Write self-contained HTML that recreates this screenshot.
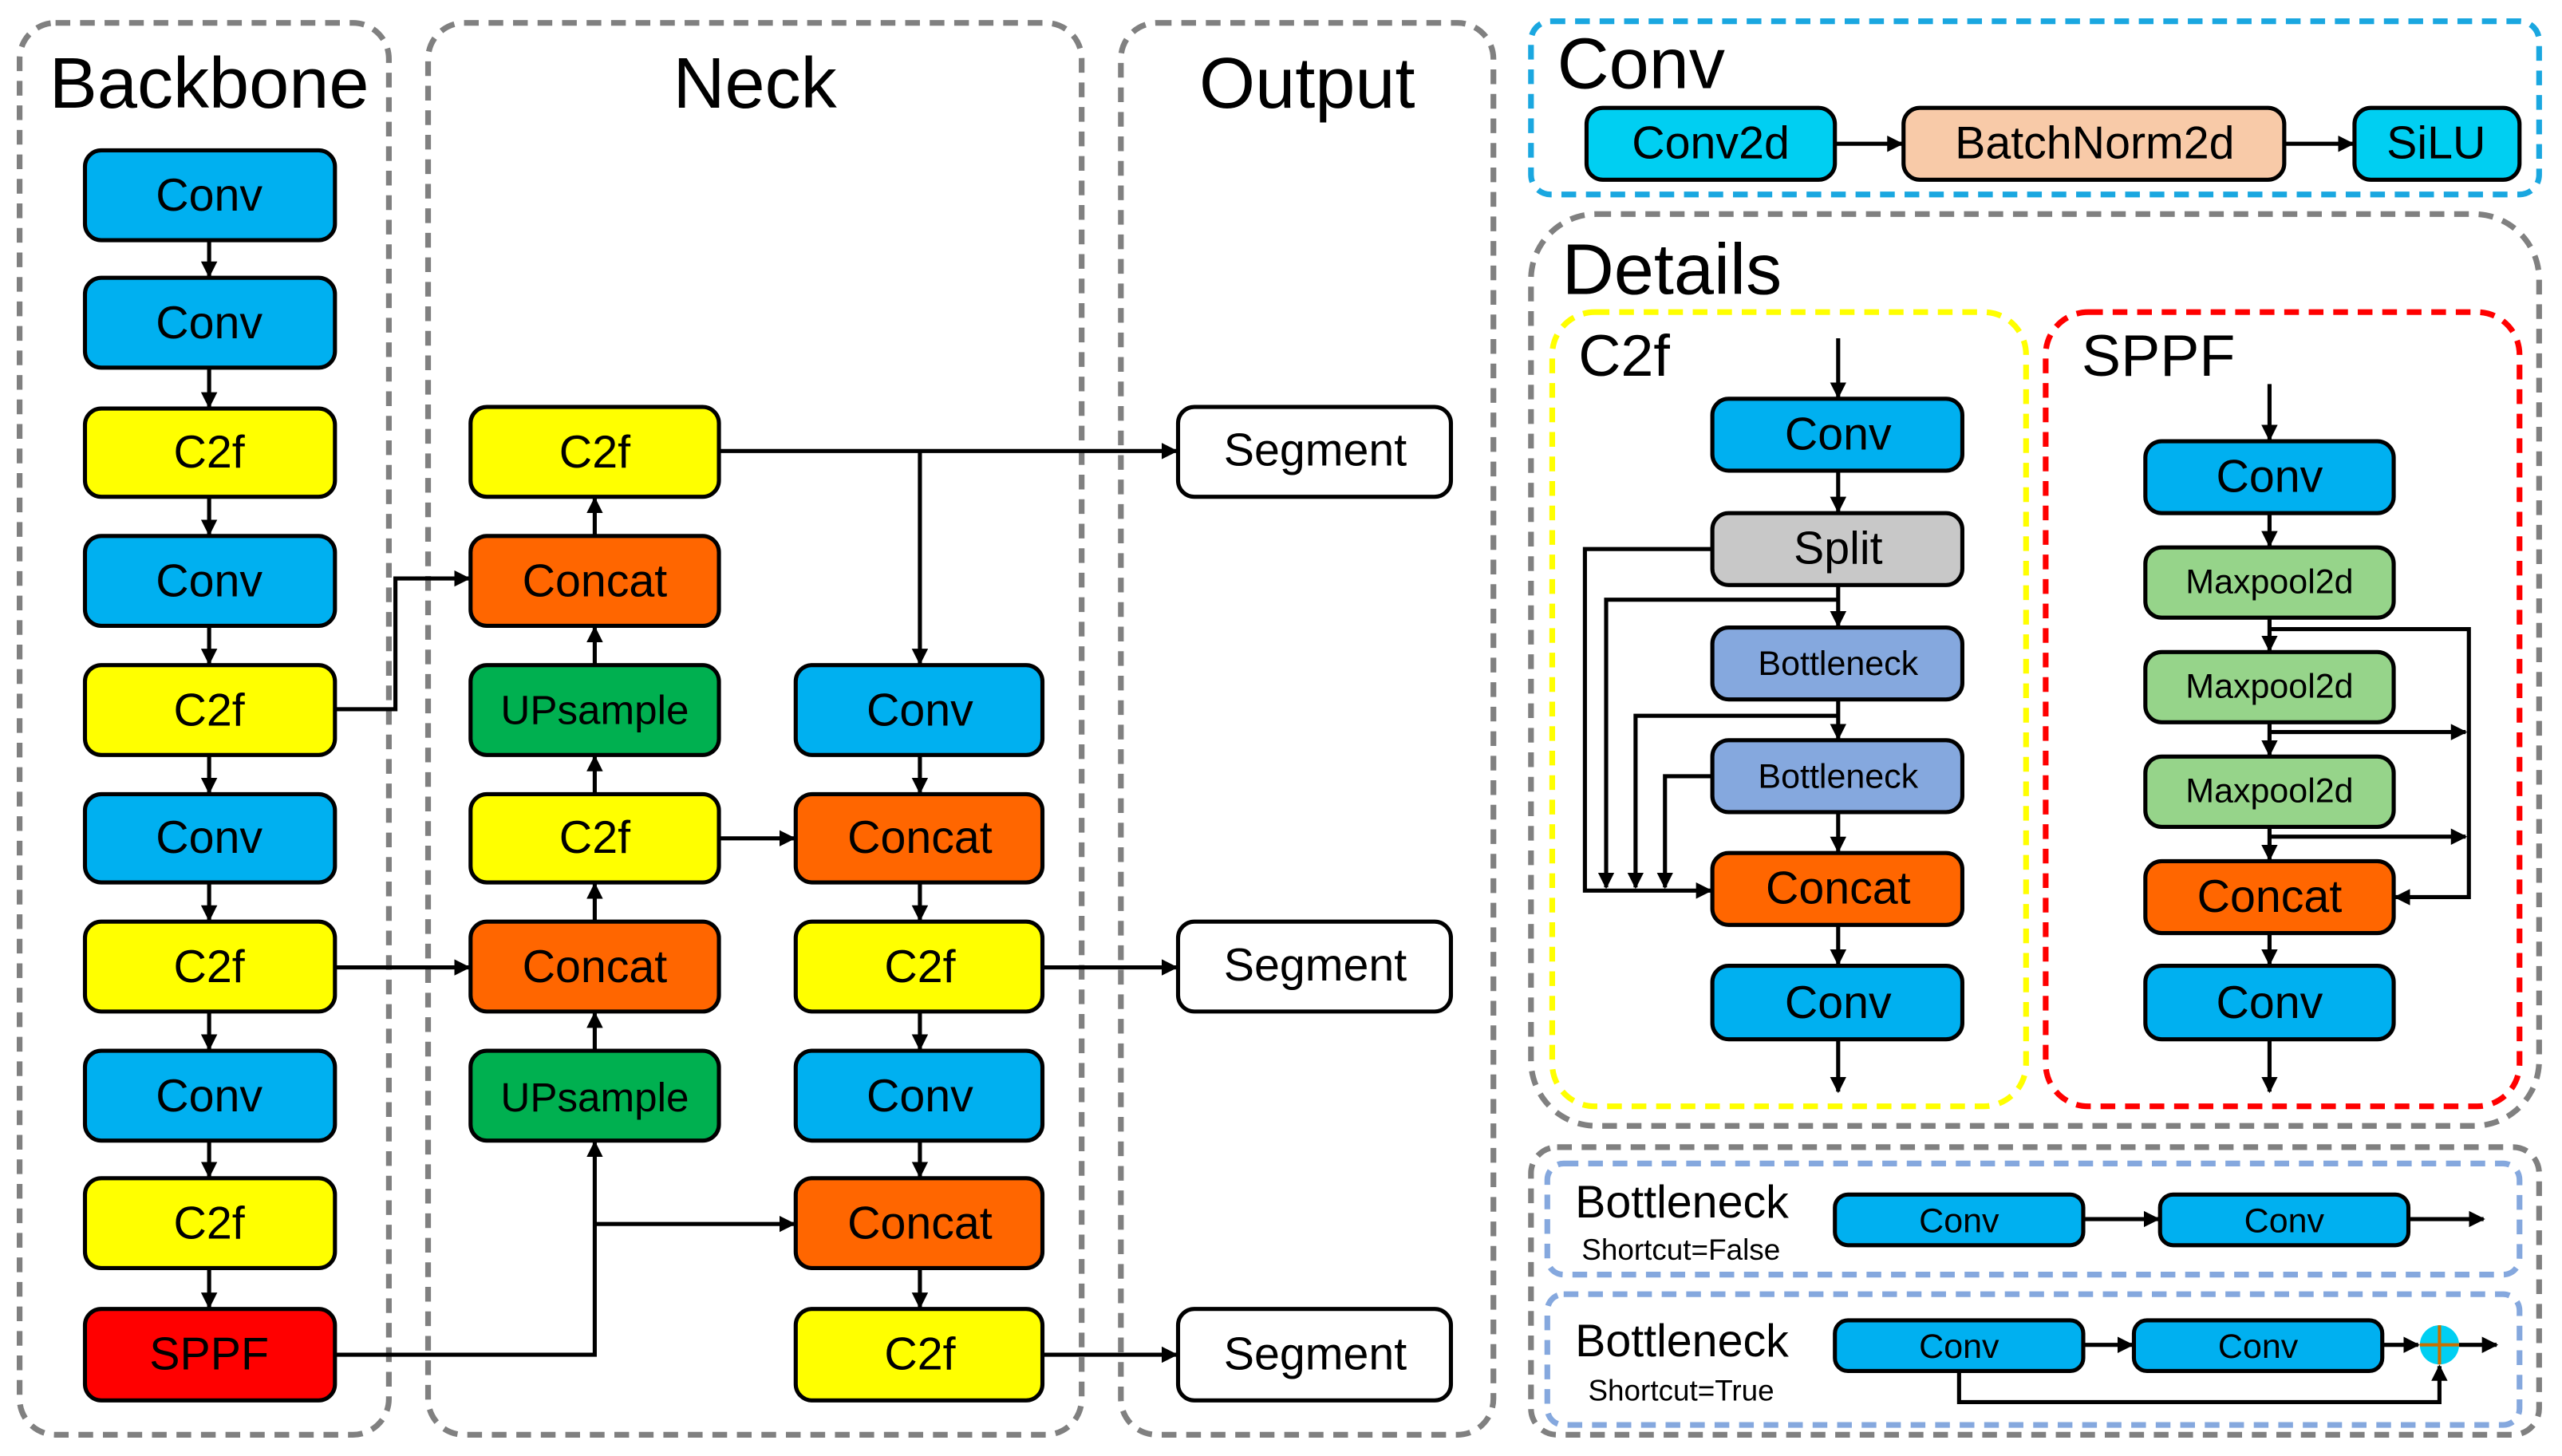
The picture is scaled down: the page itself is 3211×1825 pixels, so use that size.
<!DOCTYPE html>
<html><head><meta charset="utf-8"><style>html,body{margin:0;padding:0;background:#fff}svg{display:block}</style></head>
<body>
<svg width="3211" height="1825" viewBox="0 0 1568 891" preserveAspectRatio="none" xmlns="http://www.w3.org/2000/svg" font-family="Liberation Sans, sans-serif">
<defs>
<marker id="a" viewBox="0 0 10 10" refX="9" refY="5" markerWidth="4" markerHeight="4" orient="auto"><path d="M0,0L10,5L0,10z" fill="#000"/></marker>
</defs>
<g fill="none" stroke-dasharray="9,6" stroke-width="3.5">
<rect x="12" y="14" width="226" height="864" rx="22" stroke="#808080"/>
<rect x="262" y="14" width="400" height="864" rx="22" stroke="#808080"/>
<rect x="686" y="14" width="228" height="864" rx="22" stroke="#808080"/>
<rect x="937" y="13" width="617" height="106" rx="12" stroke="#1aa7e0"/>
<rect x="937" y="131" width="617" height="558" rx="40" stroke="#808080"/>
<rect x="950" y="191" width="290" height="486" rx="26" stroke="#ffff00"/>
<rect x="1252" y="191" width="290" height="486" rx="26" stroke="#ff0000"/>
<rect x="937" y="702" width="617" height="176" rx="16" stroke="#808080"/>
<rect x="947" y="712" width="595" height="68" rx="10" stroke="#85a8de"/>
<rect x="947" y="792" width="595" height="80" rx="10" stroke="#85a8de"/>
</g>
<g font-size="44" text-anchor="middle" fill="#000">
<text x="128" y="66">Backbone</text>
<text x="462" y="66">Neck</text>
<text x="800" y="66">Output</text>
</g>
<g font-size="44" fill="#000">
<text x="953" y="54">Conv</text>
<text x="956" y="180">Details</text>
</g>
<g font-size="36" fill="#000">
<text x="966" y="230">C2f</text>
<text x="1274" y="230">SPPF</text>
</g>
<!-- boxes -->
<g stroke="#000" stroke-width="2.5">
<g fill="#00b0f0"><rect x="52" y="92" width="153" height="55" rx="10"/><rect x="52" y="170" width="153" height="55" rx="10"/><rect x="52" y="328" width="153" height="55" rx="10"/><rect x="52" y="486" width="153" height="54" rx="10"/><rect x="52" y="643" width="153" height="55" rx="10"/><rect x="487" y="407" width="151" height="55" rx="10"/><rect x="487" y="643" width="151" height="55" rx="10"/>
<rect x="1048" y="244" width="153" height="44" rx="10"/><rect x="1048" y="591" width="153" height="45" rx="10"/><rect x="1313" y="270" width="152" height="44" rx="10"/><rect x="1313" y="591" width="152" height="45" rx="10"/>
<rect x="1123" y="731" width="152" height="31" rx="8"/><rect x="1322" y="731" width="152" height="31" rx="8"/><rect x="1123" y="808" width="152" height="31" rx="8"/><rect x="1306" y="808" width="152" height="31" rx="8"/></g>
<g fill="#ffff00"><rect x="52" y="250" width="153" height="54" rx="10"/><rect x="52" y="407" width="153" height="55" rx="10"/><rect x="52" y="564" width="153" height="55" rx="10"/><rect x="52" y="721" width="153" height="55" rx="10"/><rect x="288" y="249" width="152" height="55" rx="10"/><rect x="288" y="486" width="152" height="54" rx="10"/><rect x="487" y="564" width="151" height="55" rx="10"/><rect x="487" y="801" width="151" height="56" rx="10"/></g>
<rect x="52" y="801" width="153" height="56" rx="10" fill="#ff0000"/>
<g fill="#ff6600"><rect x="288" y="328" width="152" height="55" rx="10"/><rect x="288" y="564" width="152" height="55" rx="10"/><rect x="487" y="486" width="151" height="54" rx="10"/><rect x="487" y="721" width="151" height="55" rx="10"/><rect x="1048" y="522" width="153" height="44" rx="10"/><rect x="1313" y="527" width="152" height="44" rx="10"/></g>
<g fill="#00b050"><rect x="288" y="407" width="152" height="55" rx="10"/><rect x="288" y="643" width="152" height="55" rx="10"/></g>
<g fill="#fff"><rect x="721" y="249" width="167" height="55" rx="10"/><rect x="721" y="564" width="167" height="55" rx="10"/><rect x="721" y="801" width="167" height="56" rx="10"/></g>
<g fill="#00cff2"><rect x="971" y="66" width="152" height="44" rx="10"/><rect x="1441" y="66" width="101" height="44" rx="10"/></g>
<rect x="1165" y="66" width="233" height="44" rx="10" fill="#f8caa8"/>
<rect x="1048" y="314" width="153" height="44" rx="10" fill="#c8c8c8"/>
<g fill="#85a8de"><rect x="1048" y="384" width="153" height="44" rx="10"/><rect x="1048" y="453" width="153" height="44" rx="10"/></g>
<g fill="#96d48a"><rect x="1313" y="335" width="152" height="43" rx="10"/><rect x="1313" y="399" width="152" height="43" rx="10"/><rect x="1313" y="463" width="152" height="43" rx="10"/></g>
</g>
<!-- connectors -->
<g stroke="#000" stroke-width="2.5" fill="none" marker-end="url(#a)">
<path d="M128 148V169"/><path d="M128 226V249"/><path d="M128 305V327"/><path d="M128 384V406"/><path d="M128 463V485"/><path d="M128 541V563"/><path d="M128 620V642"/><path d="M128 699V720"/><path d="M128 777V800"/>
<path d="M364 327V305"/><path d="M364 406V384"/><path d="M364 485V463"/><path d="M364 563V541"/><path d="M364 642V620"/>
<path d="M563 463V485"/><path d="M563 541V563"/><path d="M563 620V642"/><path d="M563 699V720"/><path d="M563 777V800"/>
<path d="M206 434H242V354H287"/>
<path d="M206 592H287"/>
<path d="M206 829H364V699"/>
<path d="M364 749H486"/>
<path d="M441 276H720"/>
<path d="M563 276V406"/>
<path d="M441 513H486"/>
<path d="M639 592H720"/>
<path d="M639 829H720"/>
<path d="M1124 88H1164"/><path d="M1399 88H1440"/>
<path d="M1125 207V243"/><path d="M1125 289V313"/><path d="M1125 359V383"/><path d="M1125 429V452"/><path d="M1125 498V521"/><path d="M1125 567V590"/><path d="M1125 637V668"/>
<path d="M1048 336H970V545H1047"/>
<path d="M1125 367H983V543"/><path d="M1125 438H1001V543"/><path d="M1048 475H1019V543"/>
<path d="M1389 235V269"/><path d="M1389 315V334"/><path d="M1389 379V398"/><path d="M1389 443V462"/><path d="M1389 507V526"/><path d="M1389 572V590"/><path d="M1389 637V668"/>
<path d="M1389 385H1511V549H1466"/>
<path d="M1389 448H1509"/><path d="M1389 512H1509"/>
<path d="M1276 746H1321"/><path d="M1475 746H1520"/><path d="M1276 823H1305"/><path d="M1459 823H1480"/><path d="M1505 823H1528"/>
<path d="M1199 840V858H1493V836"/>
</g>
<circle cx="1493" cy="823" r="12" fill="#00cff2"/>
<path d="M1481 823H1505M1493 811V835" stroke="#c87000" stroke-width="2"/>
<!-- labels -->
<g font-size="28" text-anchor="middle" fill="#000">
<text x="128" y="129">Conv</text><text x="128" y="207">Conv</text><text x="128" y="286">C2f</text><text x="128" y="365">Conv</text><text x="128" y="444">C2f</text><text x="128" y="522">Conv</text><text x="128" y="601">C2f</text><text x="128" y="680">Conv</text><text x="128" y="758">C2f</text><text x="128" y="838">SPPF</text>
<text x="364" y="286">C2f</text><text x="364" y="365">Concat</text><text x="364" y="443" font-size="25">UPsample</text><text x="364" y="522">C2f</text><text x="364" y="601">Concat</text><text x="364" y="680" font-size="25">UPsample</text>
<text x="563" y="444">Conv</text><text x="563" y="522">Concat</text><text x="563" y="601">C2f</text><text x="563" y="680">Conv</text><text x="563" y="758">Concat</text><text x="563" y="838">C2f</text>
<text x="805" y="285">Segment</text><text x="805" y="600">Segment</text><text x="805" y="838">Segment</text>
<text x="1047" y="97">Conv2d</text><text x="1282" y="97">BatchNorm2d</text><text x="1491" y="97">SiLU</text>
<text x="1125" y="275">Conv</text><text x="1125" y="345">Split</text><text x="1125" y="553">Concat</text><text x="1125" y="623">Conv</text>
<text x="1389" y="301">Conv</text><text x="1389" y="558">Concat</text><text x="1389" y="623">Conv</text>
</g>
<g font-size="21" text-anchor="middle" fill="#000">
<text x="1125" y="413">Bottleneck</text><text x="1125" y="482">Bottleneck</text>
<text x="1389" y="363">Maxpool2d</text><text x="1389" y="427">Maxpool2d</text><text x="1389" y="491">Maxpool2d</text>
<text x="1199" y="754">Conv</text><text x="1398" y="754">Conv</text><text x="1199" y="831">Conv</text><text x="1382" y="831">Conv</text>
</g>
<g fill="#000">
<text x="964" y="745" font-size="28">Bottleneck</text><text x="968" y="771" font-size="18">Shortcut=False</text>
<text x="964" y="830" font-size="28">Bottleneck</text><text x="972" y="857" font-size="18">Shortcut=True</text>
</g>
</svg>
</body></html>
